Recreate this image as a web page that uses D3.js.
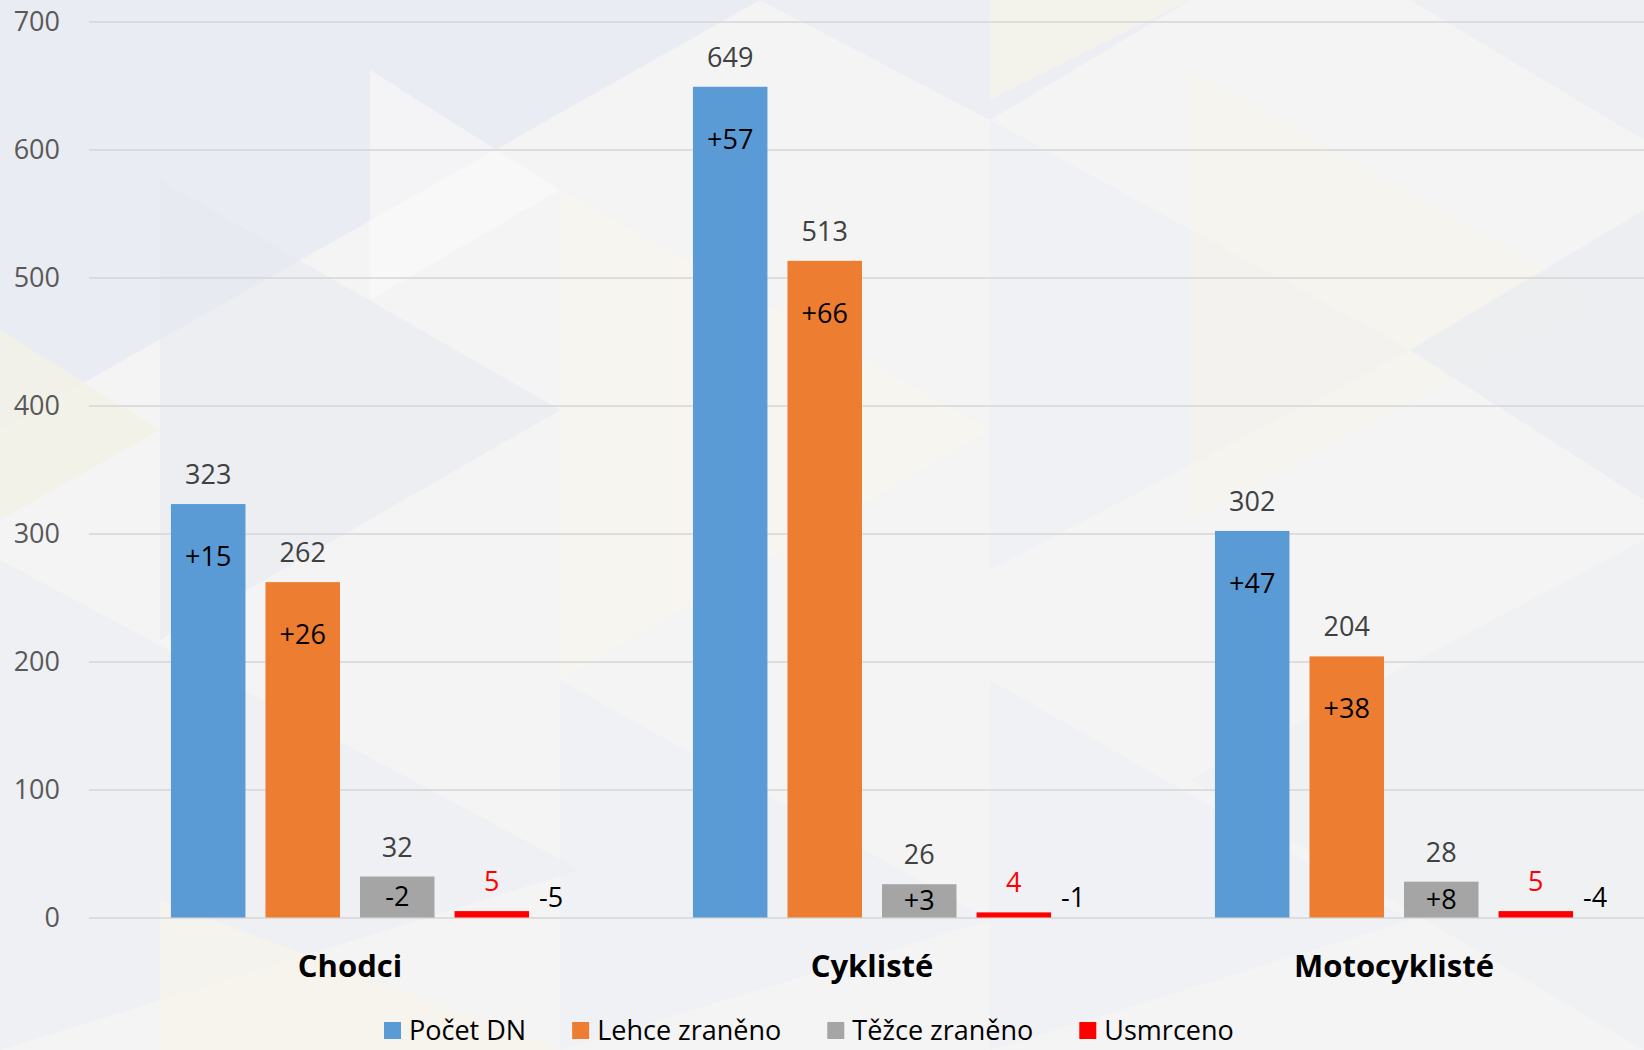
<!DOCTYPE html>
<html><head><meta charset="utf-8">
<script src="https://cdn.jsdelivr.net/npm/d3@7"></script>
<style>
html,body{margin:0;padding:0;background:#f4f4f5;}
svg{display:block;font-family:"Open Sans",sans-serif;}
</style></head>
<body>
<svg id="c" width="1644" height="1050"></svg>
<script>
const categories = ["Chodci", "Cyklisté", "Motocyklisté"];
const seriesNames = ["Počet DN", "Lehce zraněno", "Těžce zraněno", "Usmrceno"];
const pocetDN = [323, 649, 302];
const lehce = [262, 513, 204];
const tezce = [32, 26, 28];
const usmrceno = [5, 4, 5];
const changePocet = ["+15", "+57", "+47"];
const changeLehce = ["+26", "+66", "+38"];
const changeTezce = ["-2", "+3", "+8"];
const changeUsmrceno = ["-5", "-1", "-4"];
const yTicks = [0, 100, 200, 300, 400, 500, 600, 700];
const colors = ["#5b9bd5", "#ed7d31", "#a5a5a5", "#ff0000"];

const values = [pocetDN, lehce, tezce, usmrceno];
const changes = [changePocet, changeLehce, changeTezce, changeUsmrceno];

const svg = d3.select("#c");
const W = 1644, H = 1050;

// subtle background pattern
const bg = svg.append("g");
bg.append("rect").attr("width", W).attr("height", H).attr("fill", "#f4f4f5");
const tris = [
  {p:[[0,0],[760,0],[0,430]], c:"#e7eaf1", o:0.75},
  {p:[[160,180],[560,410],[160,640]], c:"#e3e7ef", o:0.5},
  {p:[[0,330],[160,430],[0,520]], c:"#f3f1e6", o:0.8},
  {p:[[560,190],[990,430],[560,680]], c:"#f6f5ee", o:0.7},
  {p:[[370,70],[560,190],[370,300]], c:"#fafafa", o:0.6},
  {p:[[760,0],[1190,0],[990,120]], c:"#e8ebf2", o:0.7},
  {p:[[990,120],[1410,350],[990,570]], c:"#eceef3", o:0.6},
  {p:[[990,0],[1190,0],[990,100]], c:"#f5f3e9", o:0.8},
  {p:[[1190,70],[1600,300],[1190,520]], c:"#f5f3ea", o:0.6},
  {p:[[1410,0],[1644,0],[1644,140]], c:"#e9ecf2", o:0.7},
  {p:[[1410,350],[1644,210],[1644,500]], c:"#e8ebf1", o:0.7},
  {p:[[0,560],[580,870],[0,1050]], c:"#e9ecf2", o:0.45},
  {p:[[560,680],[990,920],[560,1050]], c:"#eceef3", o:0.45},
  {p:[[990,680],[1410,920],[990,1050]], c:"#eaedf2", o:0.4},
  {p:[[1190,780],[1644,540],[1644,1050]], c:"#ebedf2", o:0.45},
  {p:[[160,900],[560,1050],[160,1050]], c:"#f6f4ea", o:0.7}
];
bg.selectAll("polygon").data(tris).join("polygon")
  .attr("points", d => d.p.map(q => q.join(",")).join(" "))
  .attr("fill", d => d.c).attr("opacity", d => d.o);

const x0L = 89, x0R = 1655;
const yTop = 21.5, yBot = 917.5;

const x0 = d3.scaleBand().domain(categories).range([x0L, x0R])
  .paddingInner(0.314).paddingOuter(0.157);
const x1 = d3.scaleBand().domain(seriesNames).range([0, x0.bandwidth()])
  .paddingInner(0.212).paddingOuter(0);
const y = d3.scaleLinear().domain([0, 700]).range([yBot, yTop]);

// y axis with gridlines
const yAxis = svg.append("g").attr("transform", `translate(${x0L},0)`)
  .call(d3.axisLeft(y).tickValues(yTicks).tickSize(-(x0R - x0L)).tickPadding(29));
yAxis.select(".domain").remove();
yAxis.selectAll(".tick line").attr("stroke", "#d6d6d6").attr("stroke-width", 1.6);
yAxis.selectAll(".tick text").attr("fill", "#595959").attr("font-size", 27)
  .attr("font-family", "Open Sans");

// x axis labels
const xAxis = svg.append("g").attr("transform", `translate(0,${yBot})`)
  .call(d3.axisBottom(x0).tickSize(0).tickPadding(37));
xAxis.select(".domain").remove();
xAxis.selectAll(".tick text").attr("fill", "#000").attr("font-size", 31)
  .attr("font-weight", "bold").attr("font-family", "Open Sans");

// data rows
const rows = [];
categories.forEach((cat, i) => {
  seriesNames.forEach((s, j) => {
    rows.push({cat, s, j, v: values[j][i], ch: changes[j][i]});
  });
});

const groups = svg.append("g");
groups.selectAll("rect.bar").data(rows).join("rect")
  .attr("class", "bar")
  .attr("x", d => x0(d.cat) + x1(d.s))
  .attr("y", d => y(d.v))
  .attr("width", x1.bandwidth())
  .attr("height", d => y(0) - y(d.v))
  .attr("fill", d => colors[d.j]);

// value labels
groups.selectAll("text.val").data(rows).join("text")
  .attr("class", "val")
  .attr("x", d => x0(d.cat) + x1(d.s) + x1.bandwidth() / 2)
  .attr("y", d => y(d.v) - 20)
  .attr("text-anchor", "middle")
  .attr("font-size", 27)
  .attr("fill", d => d.j === 3 ? "#ff0000" : "#404040")
  .text(d => d.v);

// change labels
groups.selectAll("text.chg").data(rows).join("text")
  .attr("class", "chg")
  .attr("x", d => {
    const bx = x0(d.cat) + x1(d.s);
    if (d.j === 3) return bx + x1.bandwidth() + 10;
    return bx + x1.bandwidth() / 2;
  })
  .attr("y", d => {
    if (d.j === 3) return y(0) - 11;
    if (d.j === 2) return (y(d.v) + y(0)) / 2 + 9;
    return y(d.v) + 62;
  })
  .attr("text-anchor", d => d.j === 3 ? "start" : "middle")
  .attr("font-size", 27)
  .attr("fill", "#000")
  .text(d => d.ch);

// legend
const leg = svg.append("g").attr("transform", `translate(384,1031)`);
let lx = 0;
seriesNames.forEach((s, j) => {
  const g = leg.append("g").attr("transform", `translate(${lx},0)`);
  g.append("rect").attr("x", 0).attr("y", -9).attr("width", 17).attr("height", 17)
    .attr("fill", colors[j]);
  const t = g.append("text").attr("x", 25).attr("y", 0).attr("dy", "0.35em")
    .attr("font-size", 27).attr("fill", "#000").text(s);
  lx += 25 + t.node().getComputedTextLength() + 46;
});
</script>
</body></html>
